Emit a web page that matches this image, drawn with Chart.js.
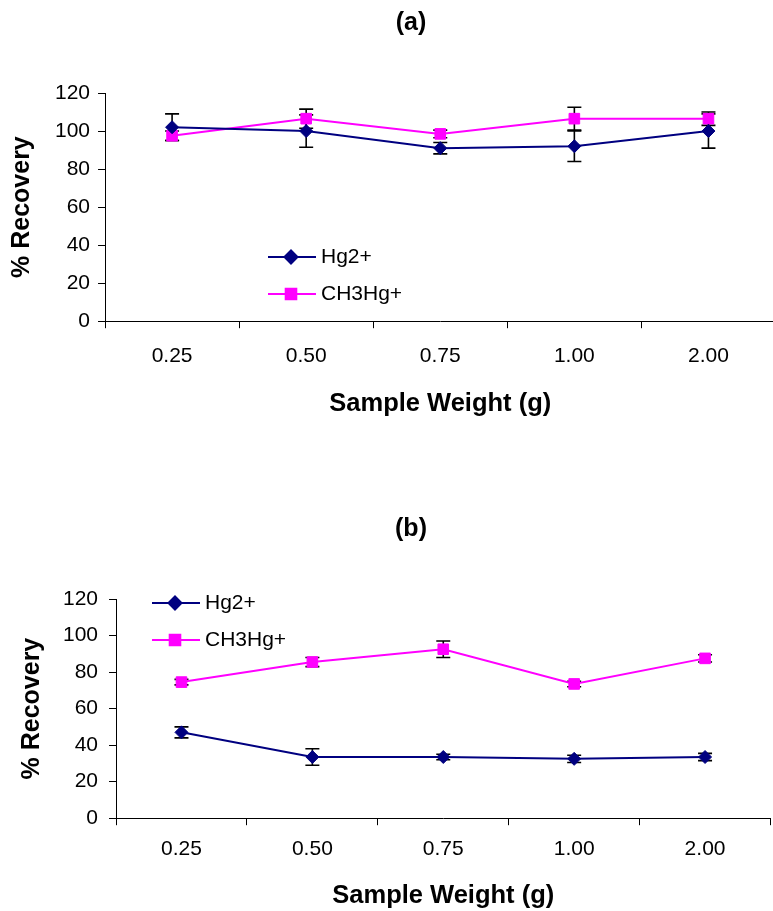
<!DOCTYPE html>
<html>
<head>
<meta charset="utf-8">
<script src="https://cdn.jsdelivr.net/npm/chart.js@4/dist/chart.umd.min.js"></script>
<style>
  html, body { margin: 0; padding: 0; background: #fff; }
  body { position: relative; width: 773px; height: 911px; overflow: hidden; }
  canvas { position: absolute; left: 0; }
  #chartA { top: 0; }
  #chartB { top: 440px; }
</style>
</head>
<body>
<canvas id="chartA" width="784" height="440"></canvas>
<canvas id="chartB" width="779" height="471"></canvas>
<script>
const weights = ['0.25', '0.50', '0.75', '1.00', '2.00'];

// (a)
const hgA = [102, 100, 91, 92, 100];
const hgAErr = [7, 8.5, 3, 8, 9];
const mehgA = [97.5, 106.5, 98.5, 106.5, 106.5];
const mehgAErr = [2.5, 5, 2, 6, 3.5];

// (b)
const hgB = [47, 33.5, 33.5, 32.5, 33.5];
const hgBErr = [3, 4.5, 1.5, 2, 2];
const mehgB = [74.5, 85.5, 92.5, 73.5, 87.5];
const mehgBErr = [1.5, 2.5, 4.5, 1.5, 2];

const FONT = "'Liberation Sans', Arial, sans-serif";
const NAVY = '#000080';
const MAGENTA = '#FF00FF';

// vertical error bars with caps, drawn under the markers
const errorBars = {
    id: 'errorBars',
    beforeDatasetsDraw(chart) {
        const ctx = chart.ctx;
        const y = chart.scales.y;
        ctx.save();
        ctx.strokeStyle = '#000';
        ctx.lineWidth = 1.6;
        chart.data.datasets.forEach((ds, i) => {
            const meta = chart.getDatasetMeta(i);
            meta.data.forEach((pt, j) => {
                const v = ds.data[j], e = ds.errors[j];
                const top = y.getPixelForValue(v + e);
                const bot = y.getPixelForValue(v - e);
                ctx.beginPath();
                ctx.moveTo(pt.x, top); ctx.lineTo(pt.x, bot);
                ctx.moveTo(pt.x - 7, top); ctx.lineTo(pt.x + 7, top);
                ctx.moveTo(pt.x - 7, bot); ctx.lineTo(pt.x + 7, bot);
                ctx.stroke();
            });
        });
        ctx.restore();
    }
};

// panel caption and legend, both placed by hand
const panelText = {
    id: 'panelText',
    afterDraw(chart, args, opts) {
        const ctx = chart.ctx;
        ctx.save();
        ctx.fillStyle = '#000';
        ctx.textAlign = 'center';
        ctx.textBaseline = 'middle';
        ctx.font = 'bold 25px ' + FONT;
        ctx.fillText(opts.caption, opts.captionX, opts.captionY);

        ctx.textAlign = 'left';
        ctx.font = '21px ' + FONT;
        chart.data.datasets.forEach((ds, i) => {
            const yy = opts.legendY + i * opts.legendGap;
            ctx.strokeStyle = ds.borderColor;
            ctx.lineWidth = 2;
            ctx.beginPath();
            ctx.moveTo(opts.legendX, yy);
            ctx.lineTo(opts.legendX + 48, yy);
            ctx.stroke();
            ctx.fillStyle = ds.borderColor;
            Chart.helpers.drawPoint(ctx, {
                pointStyle: ds.pointStyle,
                radius: ds.pointRadius,
                borderWidth: 1
            }, opts.legendX + 23, yy);
            ctx.fillStyle = '#000';
            ctx.fillText(ds.label, opts.legendX + 53, yy);
        });
        ctx.restore();
    }
};

function makeChart(id, hg, hgErr, mehg, mehgErr, cfg) {
    return new Chart(document.getElementById(id), {
        type: 'line',
        data: {
            labels: weights,
            datasets: [{
                label: 'Hg2+',
                data: hg,
                errors: hgErr,
                borderColor: NAVY,
                backgroundColor: NAVY,
                borderWidth: 2,
                pointStyle: 'rectRot',
                pointRadius: 6.5,
                pointBorderWidth: 1,
                tension: 0
            }, {
                label: 'CH3Hg+',
                data: mehg,
                errors: mehgErr,
                borderColor: MAGENTA,
                backgroundColor: MAGENTA,
                borderWidth: 2,
                pointStyle: 'rect',
                pointRadius: 7.5,
                pointBorderWidth: 1,
                tension: 0
            }]
        },
        options: {
            responsive: false,
            animation: false,
            layout: { padding: { top: cfg.top, right: 0, left: 0, bottom: 0 } },
            plugins: {
                legend: { display: false },
                tooltip: { enabled: false },
                title: { display: false },
                panelText: cfg.text
            },
            scales: {
                x: {
                    type: 'category',
                    offset: true,
                    grid: { offset: true, drawOnChartArea: false, tickLength: 7, color: '#000' },
                    border: { color: '#000', width: 1 },
                    ticks: {
                        color: '#000',
                        font: { family: FONT, size: 21 },
                        padding: cfg.xTickPad,
                        maxRotation: 0,
                        autoSkip: false
                    },
                    title: {
                        display: true,
                        text: 'Sample Weight (g)',
                        color: '#000',
                        font: { family: FONT, size: 25.5, weight: 'bold' },
                        padding: cfg.xTitlePad
                    }
                },
                y: {
                    min: 0,
                    max: 120,
                    grid: { drawOnChartArea: false, tickLength: 7, color: '#000' },
                    border: { color: '#000', width: 1 },
                    ticks: {
                        stepSize: 20,
                        color: '#000',
                        font: { family: FONT, size: 21 },
                        padding: cfg.yTickPad
                    },
                    title: {
                        display: true,
                        text: '% Recovery',
                        color: '#000',
                        font: { family: FONT, size: 25, weight: 'bold' },
                        padding: cfg.yTitlePad
                    }
                }
            }
        },
        plugins: [errorBars, panelText]
    });
}

makeChart('chartA', hgA, hgAErr, mehgA, mehgAErr, {
    top: 93,
    xTickPad: 15,
    xTitlePad: { top: 5, bottom: 21 },
    yTickPad: 8,
    yTitlePad: { top: 7, bottom: 10 },
    text: { caption: '(a)', captionX: 411, captionY: 23, legendX: 268, legendY: 257, legendGap: 37 }
});

makeChart('chartB', hgB, hgBErr, mehgB, mehgBErr, {
    top: 159,
    xTickPad: 11.5,
    xTitlePad: { top: 7, bottom: 0 },
    yTickPad: 11,
    yTitlePad: { top: 17, bottom: 5 },
    text: { caption: '(b)', captionX: 411, captionY: 89, legendX: 152, legendY: 163, legendGap: 37 }
});
</script>
</body>
</html>
